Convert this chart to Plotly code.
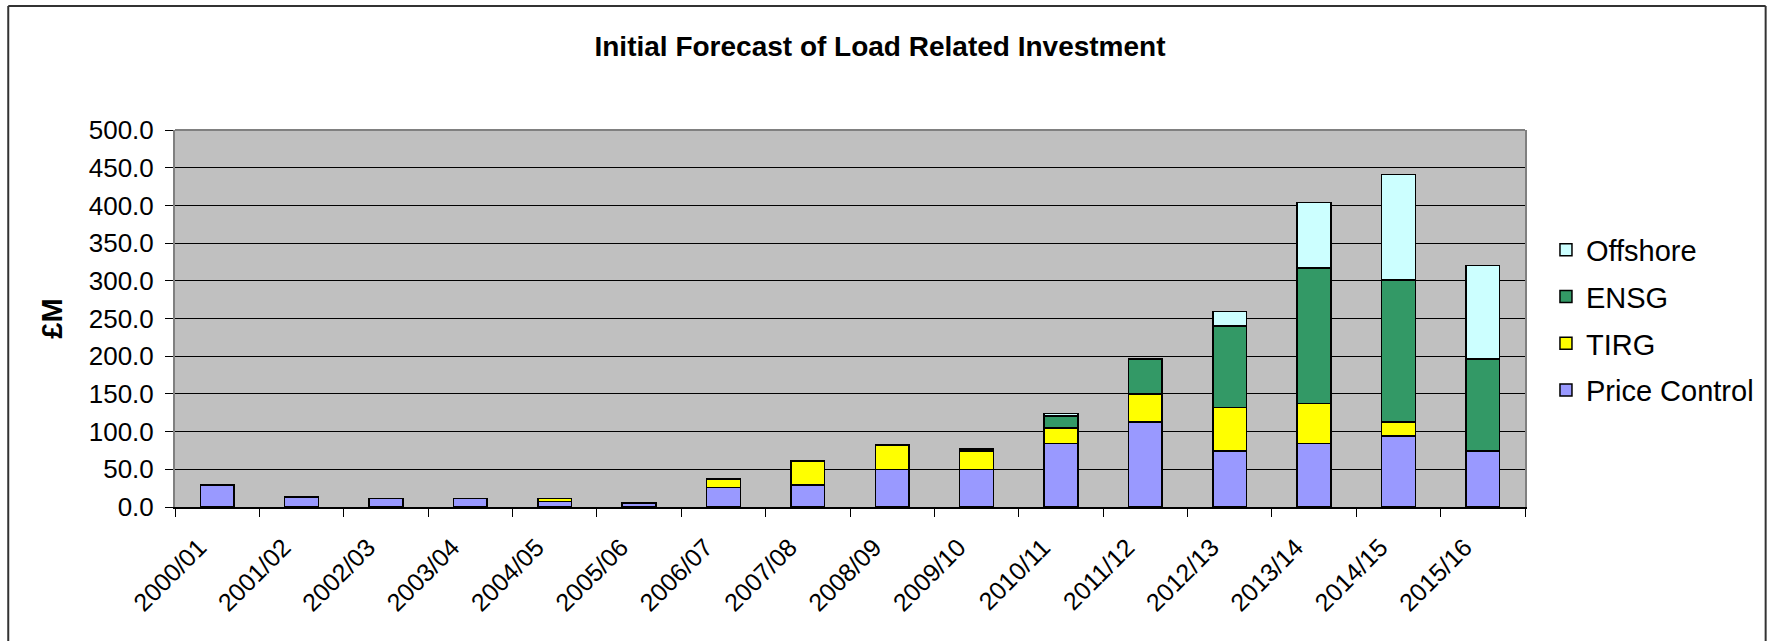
import plotly.graph_objects as go

years = ["2000/01", "2001/02", "2002/03", "2003/04", "2004/05", "2005/06", "2006/07", "2007/08",
         "2008/09", "2009/10", "2010/11", "2011/12", "2012/13", "2013/14", "2014/15", "2015/16"]
price_control = [29, 13, 11, 11, 7, 5, 26, 29, 50, 50, 84, 113, 74, 84, 94, 74]
tirg = [0, 0, 0, 0, 4, 0, 11, 32, 32, 24, 21, 37, 58, 53, 19, 0]
ensg = [0, 0, 0, 0, 0, 0, 0, 0, 0, 3, 16, 46, 108, 180, 188, 122]
offshore = [0, 0, 0, 0, 0, 0, 0, 0, 0, 0, 3, 0, 19, 87, 140, 124]

series = [
    ("Price Control", price_control, "#9999FF", 4),
    ("TIRG", tirg, "#FFFF00", 3),
    ("ENSG", ensg, "#339966", 2),
    ("Offshore", offshore, "#CCFFFF", 1),
]

FONT = "Arial, Liberation Sans, sans-serif"

fig = go.Figure()
for name, vals, col, rank in series:
    fig.add_trace(go.Bar(
        x=years, y=vals, name=name, legendgroup=name, legendrank=rank,
        marker=dict(color=col, line=dict(color="#000000", width=1.5)),
        hoverinfo="skip",
    ))

W, H = 1771, 641
L, R, T, B = 175, 1527, 130, 507
pw, ph = R - L, B - T

def px(x):
    return (x - L) / pw

def py(y):
    return (B - y) / ph

fig.update_layout(
    width=W, height=H,
    margin=dict(l=L, r=W - R, t=T, b=H - B, pad=0),
    barmode="stack", bargap=0.6,
    plot_bgcolor="#C0C0C0", paper_bgcolor="#FFFFFF",
    font=dict(family=FONT, color="#000000", size=24),
    title=dict(text="<b>Initial Forecast of Load Related Investment</b>",
               font=dict(family=FONT, size=28, color="#000000"),
               x=880 / W, xref="container", xanchor="center",
               y=1 - 46 / H, yref="container", yanchor="middle"),
    legend=dict(traceorder="grouped", tracegroupgap=6,
                x=px(1548), xanchor="left", y=py(320), yanchor="middle",
                font=dict(family=FONT, size=29), bgcolor="rgba(0,0,0,0)"),
    xaxis=dict(type="category", tickson="boundaries", ticks="outside", ticklen=8,
               tickcolor="#000000", tickwidth=1, tickangle=-45,
               ticklabelstandoff=14, ticklabelshift=-18,
               showline=True, linecolor="#000000", linewidth=1.5,
               showgrid=False, tickfont=dict(size=25)),
    yaxis=dict(range=[0, 500], dtick=50, tickformat=".1f", ticks="outside", ticklen=8,
               tickcolor="#000000", showline=True, linecolor="#808080", linewidth=2,
               mirror=True, showgrid=True, gridcolor="#000000", gridwidth=1,
               zeroline=False, tickfont=dict(size=26), ticklabelstandoff=6,
               title=dict(text="<b>£M</b>", font=dict(size=29), standoff=18)),
    shapes=[
        dict(type="line", xref="paper", yref="paper", x0=0, x1=1, y0=1, y1=1,
             line=dict(color="#808080", width=2)),
        dict(type="line", xref="paper", yref="paper", x0=px(8), x1=px(8), y0=py(6), y1=py(660),
             line=dict(color="#333333", width=2)),
        dict(type="line", xref="paper", yref="paper", x0=px(1768), x1=px(1768), y0=py(6), y1=py(660),
             line=dict(color="#333333", width=2)),
        dict(type="line", xref="paper", yref="paper", x0=px(8), x1=px(1768), y0=py(6), y1=py(6),
             line=dict(color="#333333", width=2)),
    ],
)

fig.write_html("out.html", config={"displayModeBar": False})
